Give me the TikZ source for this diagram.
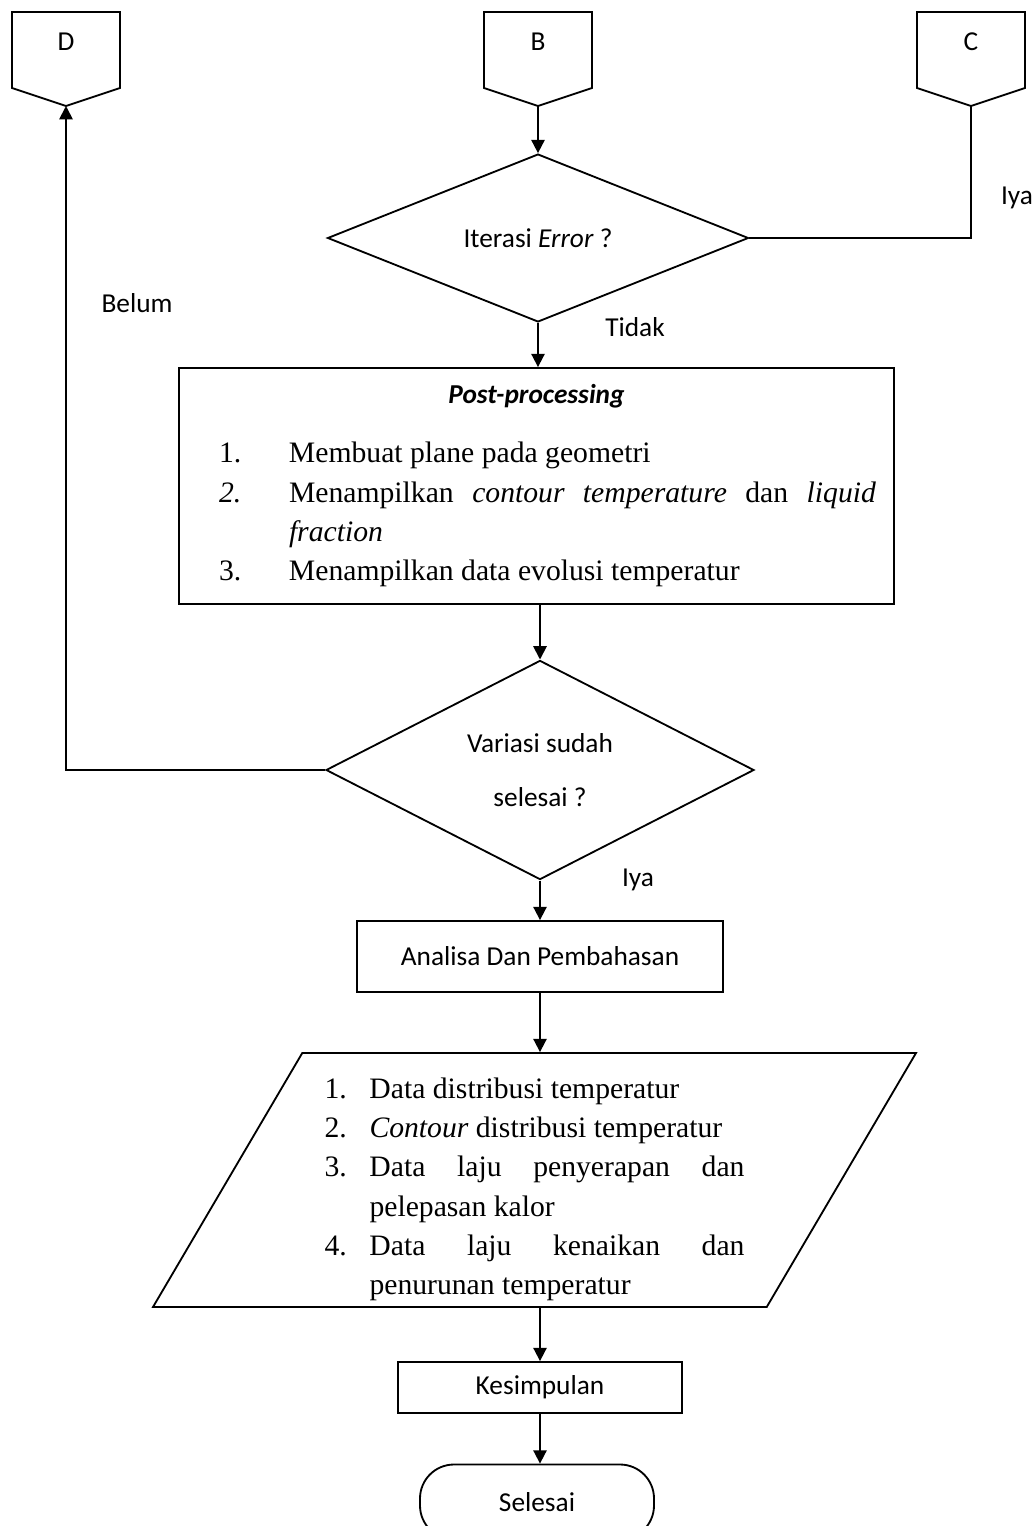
\documentclass[tikz,border=0pt]{standalone}
\usepackage{fontspec}
\setmainfont{Liberation Serif}
\newfontfamily\cfont{Carlito}
\usetikzlibrary{shapes.geometric, arrows.meta, calc}
\newlength\pxl
\setlength\pxl{0.6pt}
\newlength\itemind
\newcommand{\listitem}[2]{\par\noindent\hangindent=\itemind\hangafter=1\makebox[\itemind][l]{#1}#2}
\newcommand{\listfont}{\rmfamily\fontsize{17.8}{23.6}\selectfont}
\tikzstyle{process} = [rectangle, draw=black, line width=1.1pt]
\tikzstyle{decision} = [diamond, draw=black, line width=1.1pt, inner sep=0pt]
\tikzstyle{io} = [trapezium, trapezium left angle=59.5, trapezium right angle=120.5, trapezium stretches body, draw=black, line width=1.1pt]
\tikzstyle{terminal} = [rectangle, rounded corners=34\pxl, draw=black, line width=1.1pt]
\tikzstyle{arrow} = [line width=1.1pt,->,>={Triangle[length=8pt,width=8pt]}]
\tikzstyle{link} = [line width=1.1pt]
% off-page connector: label node + pentagon, tip coordinate <name>-tip
\newcommand{\offpage}[3]{%
  \node (#1) at (#2) {#3};
  \draw [link] ($(#1)+(-54,-30)$) -- ($(#1)+(54,-30)$) -- ($(#1)+(54,46)$)
    -- ($(#1)+(0,64)$) coordinate (#1-tip) -- ($(#1)+(-54,46)$) -- cycle;}

\begin{document}
\begin{tikzpicture}[x=\pxl, y=-\pxl, font=\cfont\fontsize{16.4}{20}\selectfont]
\useasboundingbox (0,0) rectangle (1035,1526);
\clip (0,0) rectangle (1035,1526);

% Connectors from other pages
\offpage{D}{66,42}{D}
\offpage{B}{538,42}{B}
\offpage{C}{971,42}{C}

% Iteration check
\node (err) [decision, minimum width=421\pxl, minimum height=132\pxl] at (538,238) {Iterasi \textit{Error} ?};

% Post-processing
\node (post) [process, minimum width=715\pxl, minimum height=236\pxl, text width=679\pxl, align=justify] at (536.5,486) {%
  {\centering\bfseries\itshape Post-processing\par}
  \vspace{11.8pt}
  \listfont\leftskip=22\pxl\setlength\itemind{70\pxl}
  \listitem{1.}{Membuat plane pada geometri}
  \listitem{\textit{2.}}{Menampilkan \textit{contour temperature} dan \textit{liquid}\linebreak \textit{fraction}}
  \listitem{3.}{Menampilkan data evolusi temperatur}\par};

% Variation check
\node (var) [decision, minimum width=428\pxl, minimum height=202\pxl, align=center, font=\cfont\fontsize{16.4}{32.4}\selectfont] at (540,770) {Variasi sudah\\selesai ?};

% Analysis
\node (ana) [process, minimum width=366\pxl, minimum height=71\pxl] at (540,956.5) {Analisa Dan Pembahasan};

% Output data
\node (out) [io, minimum width=763\pxl, minimum height=254\pxl, text width=420\pxl, align=justify] at (534.5,1180) {%
  \listfont\setlength\itemind{45\pxl}
  \listitem{1.}{Data distribusi temperatur}
  \listitem{2.}{\textit{Contour} distribusi temperatur}
  \listitem{3.}{Data laju penyerapan dan\linebreak pelepasan kalor}
  \listitem{4.}{Data laju kenaikan dan\linebreak penurunan temperatur}\par};

% Conclusion
\node (kes) [process, minimum width=284\pxl, minimum height=51\pxl] at (540,1387.5) {Kesimpulan};
\node (end) [terminal, minimum width=234\pxl, minimum height=75\pxl] at (537,1502) {Selesai};

% Labels
\node (iya1) at (1017,198) {Iya};
\node (tidak) at (635,327) {Tidak};
\node (belum) at (137,303) {Belum};
\node (iya2) at (638,880) {Iya};

% Arrows
\draw [arrow] (B-tip) -- (err.north);
\draw [link] (C-tip) |- (err.east);
\draw [arrow] (err.south) -- (err.south |- post.north);
\draw [arrow] (var.north |- post.south) -- (var.north);
\draw [arrow] (var.west) -| (D-tip);
\draw [arrow] (var.south) -- (ana.north);
\draw [arrow] (ana.south) -- (ana.south |- out.north);
\draw [arrow] (kes.north |- out.south) -- (kes.north);
\draw [arrow] (kes.south) -- (kes.south |- end.north);

\end{tikzpicture}
\end{document}
